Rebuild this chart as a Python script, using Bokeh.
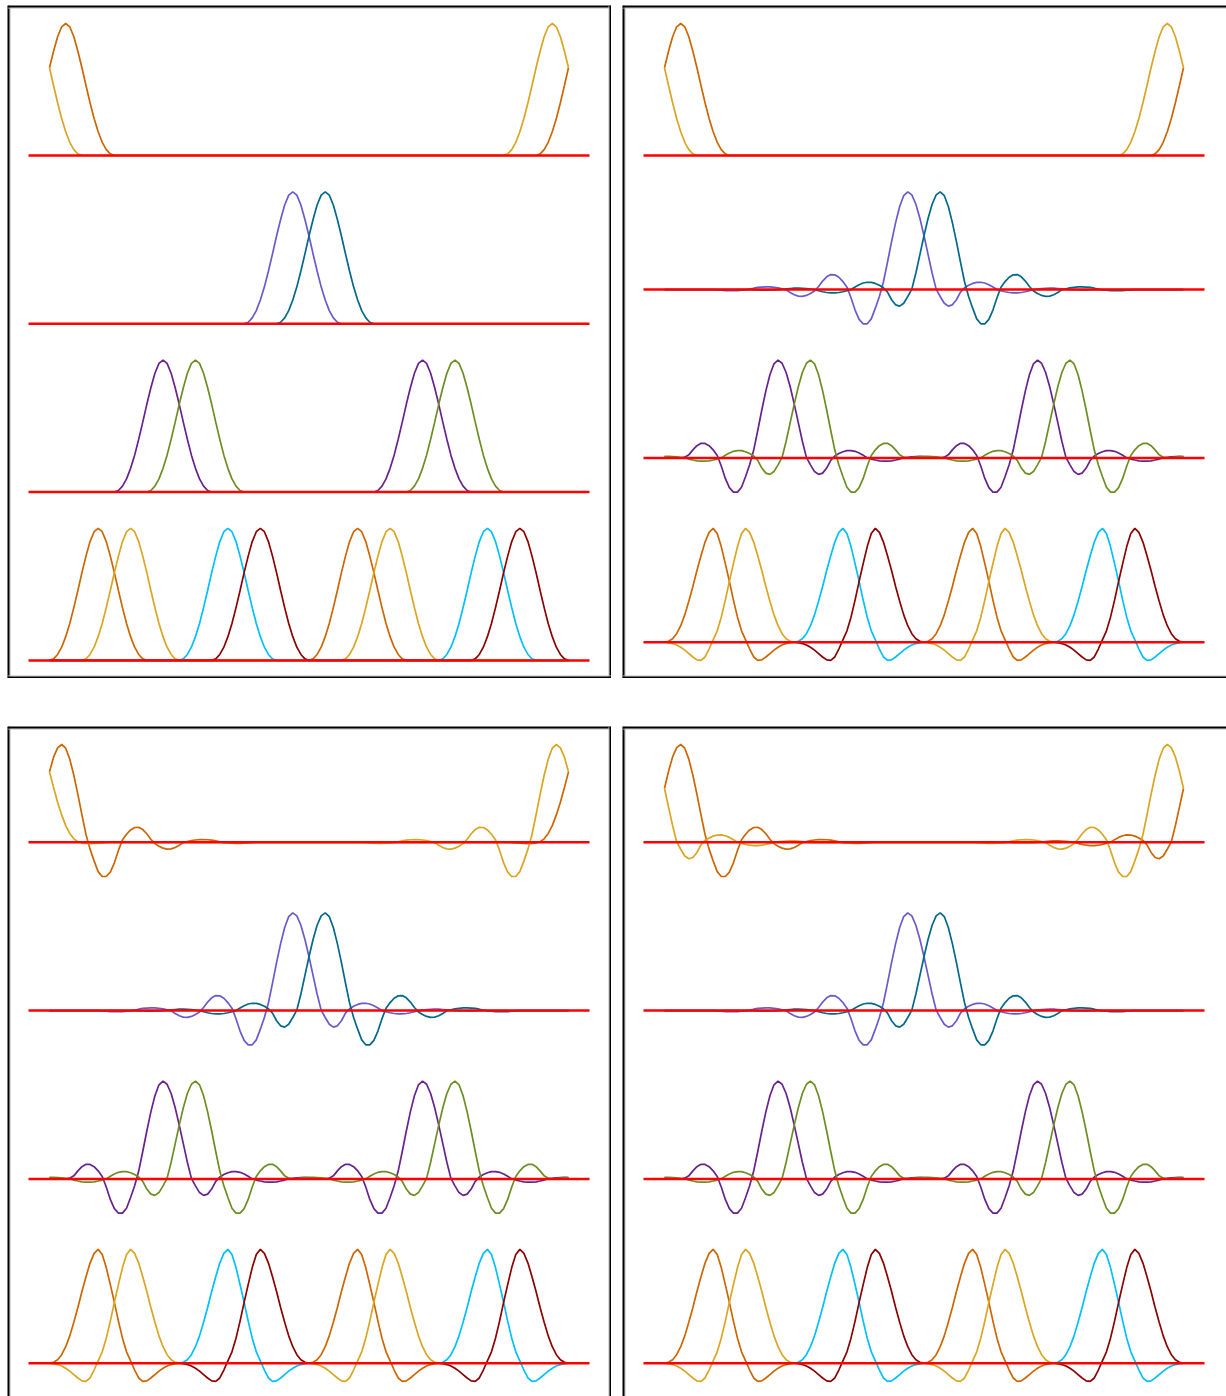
import numpy as np
from bokeh.plotting import figure
from bokeh.layouts import column, row, Spacer
from bokeh.models import Range1d, Span
from bokeh.embed import file_html
from bokeh.resources import INLINE

# ---------------- data ----------------
STEPS = 128  # samples per period; offsets below are in 1/128 of the period

# plain compact bump (top-left panel), offsets -12..12
BUMP_START = -12
BUMP = [0.0, 0.012, 0.045, 0.10, 0.18, 0.28, 0.40, 0.53, 0.665, 0.79, 0.90, 0.975,
        1.0, 0.975, 0.90, 0.79, 0.665, 0.53, 0.40, 0.28, 0.18, 0.10, 0.045, 0.012, 0.0]

# bump with ringing side lobes, deep negative lobe on the right, offsets -48..48
SIDE_START = -48
SIDE_LEFT = [0.0, -0.001, -0.003, -0.004, -0.005, -0.005, -0.004, -0.003, -0.001,
             0.002, 0.007, 0.011, 0.014, 0.015, 0.013, 0.010, 0.005, 0.0,
             -0.012, -0.022, -0.030, -0.034, -0.034, -0.030, -0.022, -0.012, 0.0,
             0.027, 0.050, 0.067, 0.075, 0.074, 0.063, 0.044, 0.019,
             -0.026, -0.104, -0.156, -0.169, -0.140, -0.071, 0.005,
             0.17, 0.36, 0.55, 0.727, 0.873, 0.968]
SIDE_RIGHT = [1.0, 0.962, 0.85, 0.685, 0.49, 0.28, 0.08,
              -0.07, -0.19, -0.30, -0.35, -0.35, -0.305, -0.21, -0.083,
              0.025, 0.082, 0.126, 0.151, 0.153, 0.13, 0.087, 0.031,
              -0.014, -0.041, -0.06, -0.07, -0.067, -0.053, -0.03, -0.003,
              0.008, 0.017, 0.023, 0.027, 0.028, 0.026, 0.022, 0.014, 0.005,
              -0.003, -0.007, -0.010, -0.012, -0.012, -0.010, -0.007, -0.003, 0.0]
# third row: the ringing on the deep side stops after the first positive side lobe
SIDE3_RIGHT = [1.0, 0.962, 0.85, 0.685, 0.49, 0.28, 0.08,
               -0.07, -0.19, -0.30, -0.35, -0.35, -0.305, -0.21, -0.083,
               0.025, 0.082, 0.126, 0.151, 0.153, 0.13, 0.087, 0.035,
               0.01, 0.0]

# plain on the left, ringing on the right (bottom-left panel, first row), offsets -19..48
HALF_START = -19
HALF_LEFT = [0.0, -0.002, -0.004, -0.007, -0.010, -0.012, -0.013, -0.012, -0.008,
             0.005, 0.035, 0.09, 0.17, 0.28, 0.41, 0.56, 0.72, 0.87, 0.965]

# bump with a single negative lobe on the right, offsets -12..20
ONENEG_START = -12
ONENEG = [0.0, 0.008, 0.03, 0.075, 0.145, 0.24, 0.36, 0.49, 0.63, 0.76, 0.88, 0.965,
          1.0, 0.955, 0.84, 0.69, 0.535, 0.37, 0.22, 0.10, 0.02,
          -0.06, -0.13, -0.16, -0.155, -0.13, -0.10, -0.07, -0.045, -0.025, -0.012, -0.004, 0.0]

# curves of each row: (colour name, peak positions in 1/128 period, mirrored)
ROW1 = [("orange", [4], False), ("yellow", [124], True)]
ROW1_HALF = [("orange", [3], False), ("yellow", [125], True)]
ROW2 = [("slateblue", [60], True), ("teal", [68], False)]
ROW3 = [("purple", [28, 92], True), ("green", [36, 100], False)]
ROW4 = [("orange", [12, 76], False), ("yellow", [20, 84], True),
        ("cyan", [44, 108], False), ("darkred", [52, 116], True)]

PANELS = [
    [("bump", ROW1), ("bump", ROW2), ("bump", ROW3), ("bump", ROW4)],
    [("bump", ROW1), ("side", ROW2), ("side3", ROW3), ("oneneg", ROW4)],
    [("half", ROW1_HALF), ("side", ROW2), ("side3", ROW3), ("oneneg", ROW4)],
    [("side", ROW1), ("side", ROW2), ("side3", ROW3), ("oneneg", ROW4)],
]

COLORS = {"orange": "#cd6600", "yellow": "#daa520", "slateblue": "#6a5acd",
          "teal": "#00688b", "purple": "#68228b", "green": "#6b8e23",
          "cyan": "#00bfff", "darkred": "#8b0000"}

PROFILES = {
    "bump": (BUMP_START, BUMP),
    "side": (SIDE_START, SIDE_LEFT + SIDE_RIGHT),
    "side3": (SIDE_START, SIDE_LEFT + SIDE3_RIGHT),
    "half": (HALF_START, HALF_LEFT + SIDE_RIGHT),
    "oneneg": (ONENEG_START, ONENEG),
}


def curve(profile_name, centers, mirrored):
    start, prof = PROFILES[profile_name]
    vals = np.zeros(STEPS + 1)
    for c in centers:
        for m in (-STEPS, 0, STEPS):
            for i, v in enumerate(prof):
                o = start + i
                pos = c + m + (-o if mirrored else o)
                if 0 <= pos <= STEPS:
                    vals[pos] += v
    return vals


PX_PER_PERIOD = 519
LEFT_PAD = 42
SLOT_TOP0 = 18
SLOT_GAP = 168.3
SLOT_H = 132


def add_frame(p, width, height, right=True, bottom=True):
    x0 = p.x_range.start
    x1 = p.x_range.end
    dx = 1.0 / PX_PER_PERIOD
    edges = [("height", x0, 2.5 * dx), ("width", height, -2.5)]
    if right:
        edges.append(("height", x1, -2.5 * dx))
    if bottom:
        edges.append(("width", 0, 2.5))
    for dim, loc, inset in edges:
        p.add_layout(Span(location=loc + inset, dimension=dim,
                          line_color="#b8b8b8", line_width=1))
        p.add_layout(Span(location=loc, dimension=dim,
                          line_color="black", line_width=4))


def make_panel(spec, width, height, right=True, bottom=True):
    p = figure(width=width, height=height, output_backend="svg", toolbar_location=None,
               x_range=Range1d(-LEFT_PAD / PX_PER_PERIOD, (width - LEFT_PAD) / PX_PER_PERIOD),
               y_range=Range1d(0, height), x_axis_type=None, y_axis_type=None,
               min_border=0)
    p.grid.visible = False
    p.outline_line_color = None
    p.background_fill_color = "white"
    p.border_fill_color = "white"
    x = np.arange(STEPS + 1) / STEPS
    for r, (pname, curves) in enumerate(spec):
        vals = [(COLORS[name], curve(pname, cs, mir)) for name, cs, mir in curves]
        vmax = max(v.max() for _, v in vals)
        vmin = min(v.min() for _, v in vals)
        top = height - (SLOT_TOP0 + SLOT_GAP * r)
        scale = SLOT_H / (vmax - vmin)
        for col, v in vals:
            p.line(x, top - (vmax - v) * scale, line_color=col, line_width=1.7)
        base = top - vmax * scale
        p.line([-0.0405, 1.0405], [base, base], line_color="#ff0000", line_width=2.5)
    add_frame(p, width, height, right=right, bottom=bottom)
    return p


p1 = make_panel(PANELS[0], 604, 673)
p2 = make_panel(PANELS[1], 604, 673, right=False)
p3 = make_panel(PANELS[2], 604, 670, bottom=False)
p4 = make_panel(PANELS[3], 604, 670, right=False, bottom=False)

layout = column(
    Spacer(height=5),
    row(Spacer(width=7), p1, Spacer(width=11), p2),
    Spacer(height=48),
    row(Spacer(width=7), p3, Spacer(width=11), p4),
)

open("out.html", "w").write(file_html(layout, INLINE))
